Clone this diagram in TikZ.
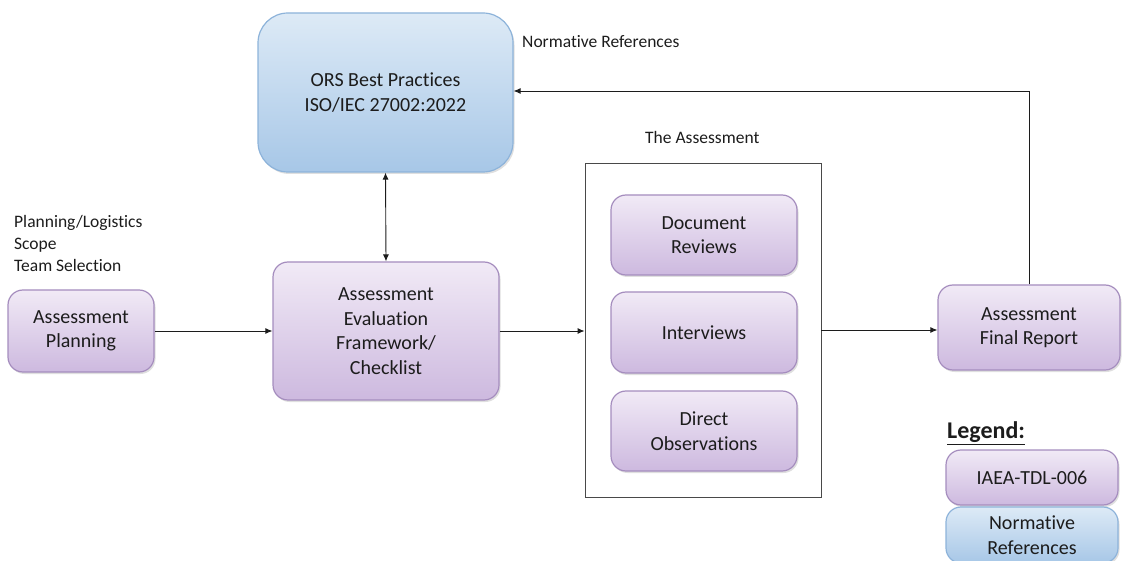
\documentclass[tikz,border=0pt]{standalone}
\usepackage{fontspec}
\setmainfont{Carlito}[Ligatures=NoCommon]
\usetikzlibrary{arrows.meta,shadows}
\definecolor{purpTop}{HTML}{F1EAF6}
\definecolor{purpBot}{HTML}{CDB9DF}
\definecolor{purpLine}{HTML}{A58DBE}
\definecolor{blueTop}{HTML}{DDEAF6}
\definecolor{blueBot}{HTML}{A7C7E7}
\definecolor{blueLine}{HTML}{8DB3DA}
\definecolor{ink}{HTML}{1C1C1C}
\tikzset{
  purpbox/.style={draw=purpLine, line width=1.2pt, rounded corners=15pt,
    top color=purpTop, bottom color=purpBot, align=center, text=ink,
    font=\fontsize{20}{24.5}\selectfont, inner sep=0pt,
    drop shadow={shadow xshift=1.5pt, shadow yshift=-2pt, opacity=0.25}},
  bluebox/.style={draw=blueLine, line width=1.2pt, rounded corners=15pt,
    top color=blueTop, bottom color=blueBot, align=center, text=ink,
    font=\fontsize{20}{24.5}\selectfont, inner sep=0pt,
    drop shadow={shadow xshift=1.5pt, shadow yshift=-2pt, opacity=0.25}},
  lbl/.style={text=ink, font=\fontsize{17.5}{22}\selectfont, inner sep=0pt},
  flow/.style={draw=ink, line width=0.9pt, -{Latex[length=7pt,width=6pt]}},
}
\begin{document}
\begin{tikzpicture}[x=1pt,y=-1pt]
\useasboundingbox (0,0) rectangle (1122,561);

% reference box
\node[bluebox, rounded corners=30pt, minimum width=255pt, minimum height=159pt]
  (ors) at (385.5,92.5) {ORS Best Practices\\ISO/IEC 27002:2022};
\node[lbl, anchor=west] (normlbl) at (522,42) {Normative References};

% planning
\node[lbl, anchor=north west, align=left] (planlbl) at (14,215)
  {Planning/Logistics\\Scope\\Team Selection};
\node[purpbox, minimum width=146pt, minimum height=82pt]
  (plan) at (81,331) {Assessment\\Planning};

% evaluation framework
\node[purpbox, minimum width=226pt, minimum height=138pt]
  (frame) at (386,331) {Assessment\\Evaluation\\Framework/\\Checklist};

% the assessment group
\node[draw=ink!80, line width=0.9pt, minimum width=236pt, minimum height=334pt, inner sep=0pt]
  (assess) at (703,330) {};
\node[lbl, anchor=west] (assesslbl) at (645,137) {The Assessment};
\node[purpbox, minimum width=186pt, minimum height=80pt]
  (docs) at (704,235) {Document\\Reviews};
\node[purpbox, minimum width=186pt, minimum height=81pt]
  (inter) at (704,332.5) {Interviews};
\node[purpbox, minimum width=186pt, minimum height=80pt]
  (obs) at (704,431) {Direct\\Observations};

% final report
\node[purpbox, minimum width=182pt, minimum height=85pt]
  (final) at (1029,327.5) {Assessment\\Final Report};

% legend
\node[text=ink, font=\fontsize{24}{28}\selectfont\bfseries, anchor=west, inner sep=0pt]
  (legend) at (947,433) {\underline{Legend:}};
\node[purpbox, minimum width=172pt, minimum height=55pt]
  (legA) at (1032,477.5) {IAEA-TDL-006};
\node[bluebox, minimum width=172pt, minimum height=56pt]
  (legB) at (1032,535) {Normative\\References};

% connectors
\draw[flow] (plan.east) -- (frame.west |- plan.east);
\draw[flow] (frame.east) -- (assess.west |- frame.east);
\draw[flow] (assess.east) -- (final.west |- assess.east);
\draw[draw=ink, line width=0.9pt, {Latex[length=7pt,width=6pt]}-{Latex[length=7pt,width=6pt]}]
  (ors.south) -- (frame.north);
\coordinate (corner) at (final.north |- 0,91);
\draw[flow] (final.north) -- (corner) -- (ors.east |- corner);
\end{tikzpicture}
\end{document}
